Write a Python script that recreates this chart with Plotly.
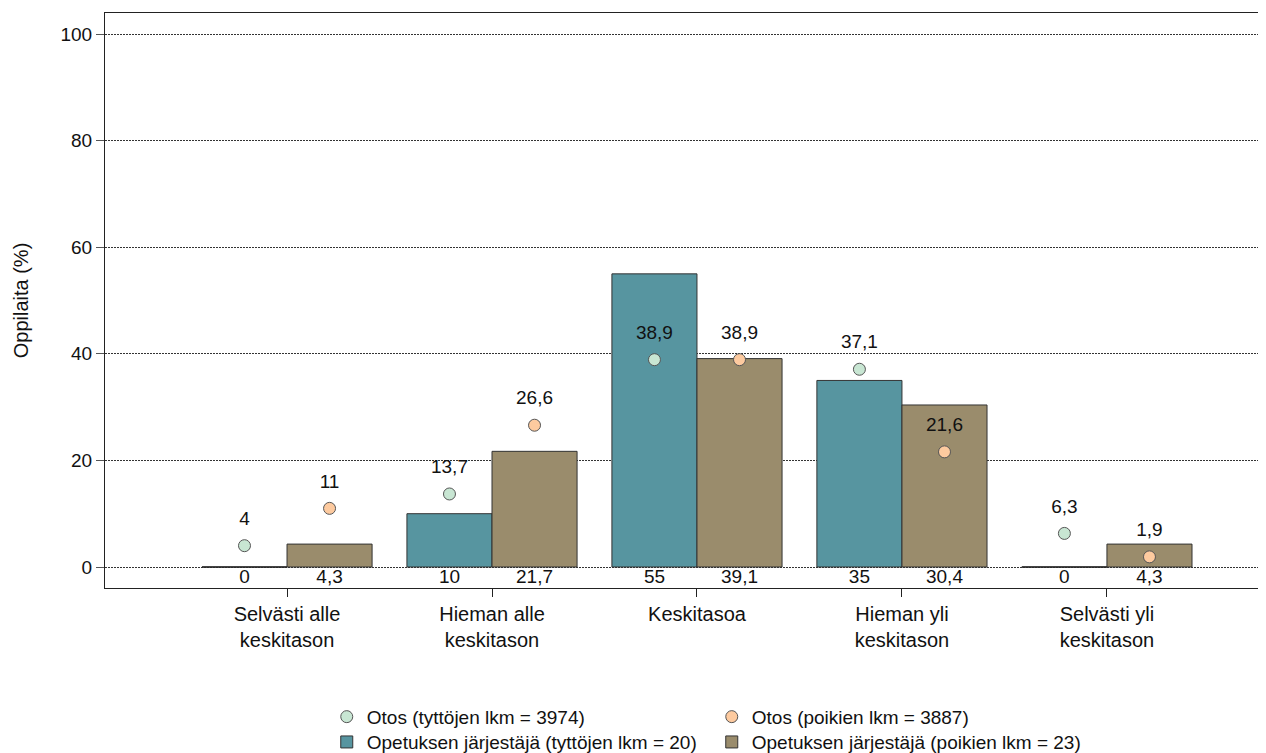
import plotly.graph_objects as go

categories = ["Selvästi alle<br>keskitason", "Hieman alle<br>keskitason", "Keskitasoa",
              "Hieman yli<br>keskitason", "Selvästi yli<br>keskitason"]
org_girls = [0, 10, 55, 35, 0]
org_boys = [4.3, 21.7, 39.1, 30.4, 4.3]
sample_girls = [4, 13.7, 38.9, 37.1, 6.3]
sample_boys = [11, 26.6, 38.9, 21.6, 1.9]

name_sg = "Otos (tyttöjen lkm = 3974)"
name_sb = "Otos (poikien lkm = 3887)"
name_og = "Opetuksen järjestäjä (tyttöjen lkm = 20)"
name_ob = "Opetuksen järjestäjä (poikien lkm = 23)"

C_TEAL = "#5795a0"
C_KHAKI = "#9a8c6c"
C_GREEN = "#c8e6d3"
C_ORANGE = "#fdca9f"
FONT = "Liberation Sans, Arial, sans-serif"

def fmt(v):
    return str(int(v)) if float(v).is_integer() else str(v).replace(".", ",")

x = list(range(len(categories)))
bargap = 0.17
bw = (1 - bargap) / 2
xg = [i - bw / 2 for i in x]
xb = [i + bw / 2 for i in x]

fig = go.Figure()
fig.add_trace(go.Bar(x=x, y=org_girls, name=name_og, marker=dict(color=C_TEAL, line=dict(color="#333", width=1)),
                     legend="legend2", offsetgroup="g", hoverinfo="skip"))
fig.add_trace(go.Bar(x=x, y=org_boys, name=name_ob, marker=dict(color=C_KHAKI, line=dict(color="#333", width=1)),
                     legend="legend2", offsetgroup="b", hoverinfo="skip"))

# zero-height bars drawn as a line at the baseline
for xs, vals in ((xg, org_girls), (xb, org_boys)):
    for xc, v in zip(xs, vals):
        if v == 0:
            fig.add_trace(go.Scatter(x=[xc - bw / 2, xc + bw / 2], y=[v, v], mode="lines",
                                     line=dict(color="#222", width=1.2), showlegend=False, hoverinfo="skip"))

fig.add_trace(go.Scatter(x=xg, y=sample_girls, mode="markers", name=name_sg,
                         marker=dict(size=12, color=C_GREEN, line=dict(color="#555", width=1)), legend="legend"))
fig.add_trace(go.Scatter(x=xb, y=sample_boys, mode="markers", name=name_sb,
                         marker=dict(size=12, color=C_ORANGE, line=dict(color="#555", width=1)), legend="legend"))

lab_off = 4.8
fig.add_trace(go.Scatter(x=xg + xb, y=[v + lab_off for v in sample_girls + sample_boys], mode="text",
                         text=[fmt(v) for v in sample_girls + sample_boys], textposition="middle center",
                         textfont=dict(size=19, color="#111", family=FONT), showlegend=False, hoverinfo="skip"))
fig.add_trace(go.Scatter(x=xg + xb, y=[-2.1] * (2 * len(x)), mode="text",
                         text=[fmt(v) for v in org_girls + org_boys], textposition="middle center",
                         textfont=dict(size=19, color="#111", family=FONT), showlegend=False, hoverinfo="skip"))

fig.update_layout(
    width=1258, height=745,
    margin=dict(l=97, r=0, t=5, b=165, autoexpand=False),
    paper_bgcolor="white", plot_bgcolor="white",
    font=dict(family=FONT, size=19, color="#111"),
    barmode="group", bargap=bargap, bargroupgap=0,
    showlegend=True,
    legend=dict(orientation="h", x=0.191, xanchor="left", y=-0.224, yanchor="middle",
                entrywidth=340, font=dict(size=19, color="#111"), bgcolor="rgba(0,0,0,0)",
                traceorder="normal"),
    legend2=dict(orientation="h", x=0.191, xanchor="left", y=-0.268, yanchor="middle",
                 entrywidth=340, font=dict(size=19, color="#111"), bgcolor="rgba(0,0,0,0)",
                 traceorder="normal"),
    xaxis=dict(range=[-0.888, 4.776], tickvals=x, ticktext=categories, showgrid=False, zeroline=False,
               showline=True, linecolor="#222", linewidth=1, mirror=True, automargin=False,
               ticks="outside", ticklen=8, tickcolor="#222", tickfont=dict(size=20, color="#111")),
    yaxis=dict(range=[-3.94, 103.94], tickvals=[0, 20, 40, 60, 80, 100], showgrid=True,
               gridcolor="#333", griddash="2px,1px", gridwidth=1, zeroline=False,
               showline=True, linecolor="#222", linewidth=1, automargin=False,
               ticks="outside", ticklen=8, tickcolor="#555", tickfont=dict(size=19, color="#111"),
               title=dict(text="Oppilaita (%)", font=dict(size=20, color="#111"), standoff=26)),
)

fig.write_html("out.html")
